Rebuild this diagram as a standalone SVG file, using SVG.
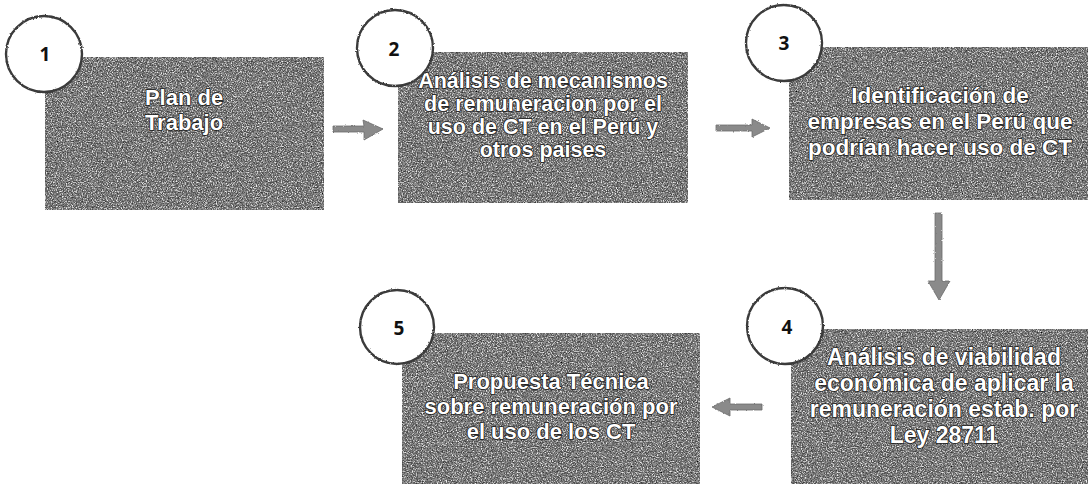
<svg xmlns="http://www.w3.org/2000/svg" width="1088" height="484" viewBox="0 0 1088 484">
<style>
.box{fill:#4a4a4a;}
.tex{filter:url(#tex);}
.t{font-family:"Liberation Sans",Arial,sans-serif;font-weight:bold;font-size:22px;fill:#fff;stroke:#1a1a1a;stroke-width:1.6px;paint-order:stroke;text-anchor:middle;}
.c{fill:#fff;stroke:#3a3a3a;stroke-width:2.4;filter:url(#rough);}
.n{font-family:"Open Sans","Liberation Sans",sans-serif;font-weight:bold;font-size:19px;fill:#111;text-anchor:middle;}
.arr{fill:#8a8a8a;stroke:#6a6a6a;stroke-width:0.8;filter:url(#rough);}
</style>
<defs>
<filter id="tex" x="0" y="0" width="100%" height="100%">
<feTurbulence type="fractalNoise" baseFrequency="0.8" numOctaves="2" seed="7" result="n"/>
<feColorMatrix in="n" type="matrix" values="1 0 0 0 0 1 0 0 0 0 1 0 0 0 0 0 0 0 0 1" result="g"/>
<feComponentTransfer in="g" result="d">
<feFuncR type="discrete" tableValues="0 0.04 0.08 0.14 0.26 0.55 0.85 1"/>
<feFuncG type="discrete" tableValues="0 0.04 0.08 0.14 0.26 0.55 0.85 1"/>
<feFuncB type="discrete" tableValues="0 0.04 0.08 0.14 0.26 0.55 0.85 1"/>
</feComponentTransfer>
<feComposite in="d" in2="SourceGraphic" operator="in"/>
</filter>
<filter id="rough" x="-10%" y="-10%" width="120%" height="120%">
<feTurbulence type="fractalNoise" baseFrequency="0.6" numOctaves="1" seed="2" result="n"/>
<feDisplacementMap in="SourceGraphic" in2="n" scale="2.5" xChannelSelector="R" yChannelSelector="G"/>
</filter>
</defs>
<rect width="1088" height="484" fill="#fff"/>
<g id="connectors">
<path class="arr" d="M333,126 L364,126 L363,120 L383,129 L364,140 L364,132 L333,132 Z"/>
<path class="arr" d="M716,125 L752,125 L752,119 L770,128 L752,137 L752,131 L716,131 Z"/>
<path class="arr" d="M935,213 L942,213 L942,281 L950,281 L939,300 L928,281 L935,281 Z"/>
<path class="arr" d="M762,404 L730,404 L730,398 L712,407 L730,416 L730,410 L762,410 Z"/>
</g>
<g id="node1">
<rect class="box tex" x="45" y="57" width="279" height="153"/>
<text class="t" x="184" y="105">Plan de</text>
<text class="t" x="184" y="130">Trabajo</text>
<circle class="c" cx="44" cy="54" r="38"/>
<text class="n" x="45" y="61">1</text>
</g>
<g id="node2">
<rect class="box tex" x="398" y="52" width="290" height="151"/>
<text class="t" x="543" y="88" style="font-size:21.5px">Análisis de mecanismos</text>
<text class="t" x="543" y="111" style="font-size:21.5px">de remuneracion por el</text>
<text class="t" x="543" y="134" style="font-size:21.5px">uso de CT en el Perú y</text>
<text class="t" x="543" y="157" style="font-size:21.5px">otros paises</text>
<circle class="c" cx="395" cy="48" r="38"/>
<text class="n" x="394" y="56">2</text>
</g>
<g id="node3">
<rect class="box tex" x="789" y="47" width="299" height="153"/>
<text class="t" x="940" y="103" style="font-size:22.5px">Identificación de</text>
<text class="t" x="940" y="129" style="font-size:22.5px">empresas en el Perú que</text>
<text class="t" x="940" y="155" style="font-size:22.5px">podrían hacer uso de CT</text>
<circle class="c" cx="784" cy="43" r="38"/>
<text class="n" x="784" y="50">3</text>
</g>
<g id="node4">
<rect class="box tex" x="791" y="329" width="297" height="155"/>
<text class="t" x="944" y="365" style="font-size:23px">Análisis de viabilidad</text>
<text class="t" x="944" y="391" style="font-size:23px">económica de aplicar la</text>
<text class="t" x="944" y="417" style="font-size:23px">remuneración estab. por</text>
<text class="t" x="944" y="443" style="font-size:23px">Ley 28711</text>
<circle class="c" cx="785" cy="326" r="38"/>
<text class="n" x="787" y="334">4</text>
</g>
<g id="node5">
<rect class="box tex" x="402" y="333" width="298" height="151"/>
<text class="t" x="551" y="389">Propuesta Técnica</text>
<text class="t" x="551" y="414">sobre remuneración por</text>
<text class="t" x="551" y="439">el uso de los CT</text>
<circle class="c" cx="397" cy="327" r="37"/>
<text class="n" x="399" y="335">5</text>
</g>
</svg>
